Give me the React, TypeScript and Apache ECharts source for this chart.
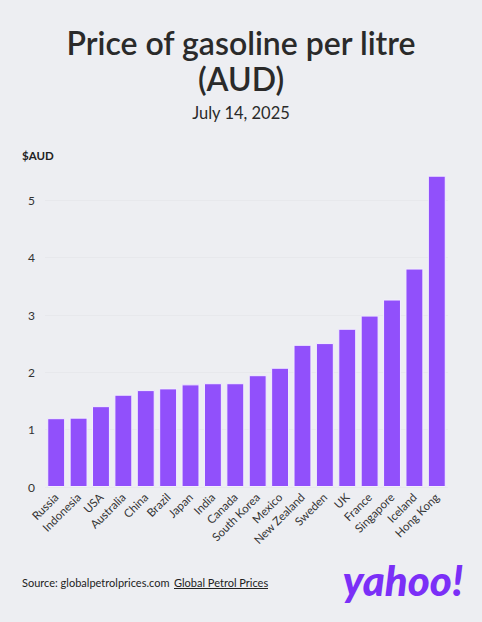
import React, { useEffect, useRef } from "react";
import * as echarts from "echarts";

const countries = [
  "Russia", "Indonesia", "USA", "Australia", "China", "Brazil", "Japan", "India", "Canada",
  "South Korea", "Mexico", "New Zealand", "Sweden", "UK", "France", "Singapore", "Iceland", "Hong Kong",
];
const pricesAUD = [1.2, 1.21, 1.41, 1.61, 1.69, 1.72, 1.79, 1.81, 1.81, 1.95, 2.08, 2.48, 2.51, 2.76, 2.99, 3.27, 3.81, 5.43];
const yTicks = [0, 1, 2, 3, 4, 5];

const FONT = "Lato, 'Noto Sans', sans-serif";

export default function App() {
  const ref = useRef<HTMLDivElement>(null);
  useEffect(() => {
    document.body.style.margin = "0";
    const chart = echarts.init(ref.current!, undefined, { renderer: "svg" });
    chart.setOption({
      animation: false,
      backgroundColor: "#edeef2",
      textStyle: { fontFamily: FONT },
      grid: { left: 45, right: 34, top: 143, bottom: 135, containLabel: false },
      xAxis: {
        type: "category",
        data: countries,
        axisLine: { show: false },
        axisTick: { show: false },
        axisLabel: { rotate: 45, fontSize: 11.5, color: "#333", margin: 8, interval: 0, fontFamily: FONT },
      },
      yAxis: {
        type: "value",
        min: 0,
        max: 6,
        interval: 1,
        axisLabel: {
          fontSize: 12,
          color: "#333",
          margin: 10,
          showMaxLabel: false,
          fontFamily: FONT,
          formatter: (v: number) => (yTicks.includes(v) ? String(v) : ""),
        },
        splitLine: { showMaxLine: false, lineStyle: { color: "#e7e8ec", width: 1 } },
        axisLine: { show: false },
        axisTick: { show: false },
      },
      series: [
        {
          type: "bar",
          data: pricesAUD,
          barCategoryGap: "20%",
          itemStyle: { color: "#9150fb", borderColor: "#f3eeff", borderWidth: 1 },
        },
      ],
      graphic: [
        {
          type: "text",
          x: 241,
          y: 42,
          style: {
            text: "Price of gasoline per litre",
            fontSize: 32,
            fontWeight: 600,
            fill: "#2a2a2a",
            fontFamily: FONT,
            align: "center",
            verticalAlign: "middle",
          },
        },
        {
          type: "text",
          x: 241,
          y: 78,
          style: {
            text: "(AUD)",
            fontSize: 32,
            fontWeight: 600,
            fill: "#2a2a2a",
            fontFamily: FONT,
            align: "center",
            verticalAlign: "middle",
          },
        },
        {
          type: "text",
          x: 241,
          y: 113,
          style: {
            text: "July 14, 2025",
            fontSize: 16.5,
            fill: "#2a2a2a",
            fontFamily: FONT,
            align: "center",
            verticalAlign: "middle",
          },
        },
        {
          type: "text",
          x: 22,
          y: 155,
          style: { text: "$AUD", fontSize: 11.5, fontWeight: 700, fill: "#222", fontFamily: FONT, verticalAlign: "middle" },
        },
        {
          type: "text",
          x: 22,
          y: 582,
          style: { text: "Source: globalpetrolprices.com", fontSize: 11, fill: "#222", fontFamily: FONT, verticalAlign: "middle" },
        },
        {
          type: "text",
          x: 174,
          y: 582,
          style: { text: "Global Petrol Prices", fontSize: 11, fill: "#222", fontFamily: FONT, verticalAlign: "middle" },
        },
        {
          type: "line",
          shape: { x1: 174, y1: 588.5, x2: 268, y2: 588.5 },
          style: { stroke: "#222", lineWidth: 1 },
        },
        {
          type: "text",
          x: 403,
          y: 580,
          style: {
            text: "yahoo!",
            fontSize: 42,
            fontWeight: 900,
            fontStyle: "italic",
            fill: "#7b2ff7",
            fontFamily: FONT,
            align: "center",
            verticalAlign: "middle",
          },
        },
      ],
    });
    return () => chart.dispose();
  }, []);
  return <div ref={ref} style={{ width: 482, height: 622 }} />;
}
